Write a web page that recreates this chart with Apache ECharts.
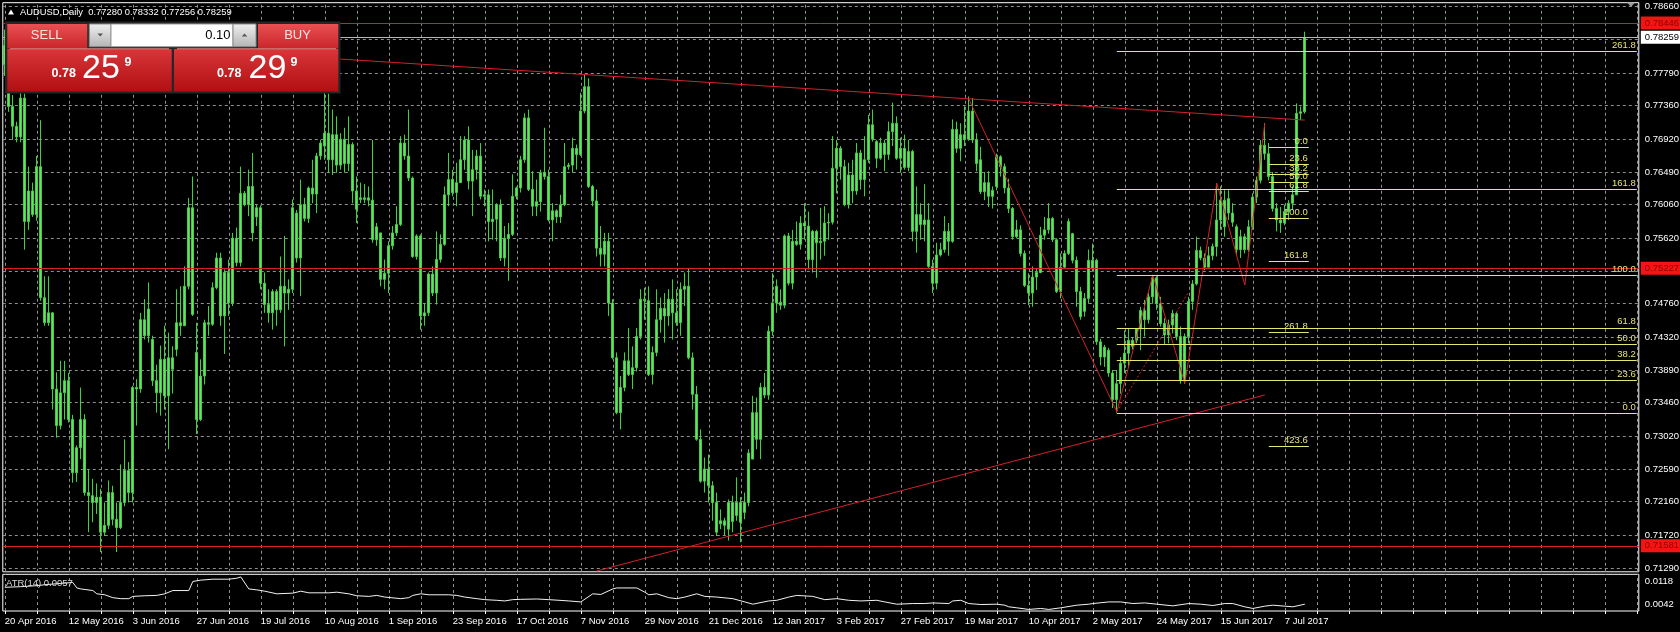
<!DOCTYPE html>
<html><head><meta charset="utf-8">
<script src="https://cdn.jsdelivr.net/npm/echarts/dist/echarts.min.js"></script>
<style>html,body{margin:0;padding:0;background:#000;}#c{width:1680px;height:632px;}</style>
</head><body><div id="c"></div>
<script>
// ---------- DATA ----------
// daily candles [open, high, low, close], bar 0 = 20 Apr 2016
const ohlc = [
[0.7790,0.7836,0.7775,0.7815],[0.7805,0.7825,0.7728,0.7735],[0.7735,0.7750,0.7691,0.7709],[0.7709,0.7715,0.7688,0.7695],[0.7695,0.7755,0.7688,0.7746],
[0.7746,0.7752,0.7547,0.7584],[0.7584,0.7656,0.7573,0.7624],[0.7624,0.7635,0.7590,0.7593],[0.7593,0.7670,0.7585,0.7656],[0.7656,0.7717,0.7480,0.7484],
[0.7484,0.7512,0.7447,0.7451],[0.7451,0.7512,0.7447,0.7464],[0.7464,0.7465,0.7337,0.7364],[0.7364,0.7386,0.7300,0.7316],[0.7316,0.7401,0.7311,0.7359],
[0.7359,0.7401,0.7324,0.7375],[0.7375,0.7385,0.7320,0.7324],[0.7324,0.7330,0.7241,0.7254],[0.7254,0.7290,0.7242,0.7287],[0.7287,0.7366,0.7272,0.7324],
[0.7324,0.7331,0.7224,0.7228],[0.7228,0.7259,0.7176,0.7224],[0.7224,0.7246,0.7189,0.7215],[0.7215,0.7240,0.7200,0.7222],[0.7222,0.7233,0.7150,0.7176],
[0.7176,0.7215,0.7171,0.7185],[0.7185,0.7244,0.7180,0.7228],[0.7228,0.7237,0.7185,0.7193],[0.7193,0.7215,0.7150,0.7182],[0.7182,0.7265,0.7180,0.7215],
[0.7215,0.7298,0.7210,0.7257],[0.7257,0.7268,0.7215,0.7228],[0.7228,0.7368,0.7215,0.7366],[0.7366,0.7377,0.7316,0.7364],[0.7364,0.7464,0.7359,0.7455],
[0.7455,0.7482,0.7429,0.7434],[0.7434,0.7504,0.7425,0.7469],[0.7429,0.7434,0.7368,0.7375],[0.7375,0.7396,0.7333,0.7359],[0.7359,0.7421,0.7329,0.7403],
[0.7403,0.7447,0.7337,0.7355],[0.7355,0.7438,0.7285,0.7405],[0.7405,0.7420,0.7358,0.7390],[0.7416,0.7495,0.7407,0.7451],[0.7451,0.7499,0.7434,0.7447],
[0.7447,0.7525,0.7447,0.7499],[0.7499,0.7615,0.7495,0.7602],[0.7602,0.7643,0.7460,0.7462],[0.7412,0.7451,0.7305,0.7324],[0.7324,0.7403,0.7322,0.7381],
[0.7381,0.7455,0.7370,0.7451],[0.7451,0.7473,0.7434,0.7449],[0.7449,0.7504,0.7447,0.7497],[0.7497,0.7543,0.7495,0.7536],[0.7536,0.7543,0.7447,0.7460],
[0.7460,0.7521,0.7410,0.7517],[0.7517,0.7534,0.7460,0.7477],[0.7477,0.7569,0.7473,0.7562],[0.7562,0.7576,0.7525,0.7530],[0.7530,0.7656,0.7525,0.7621],
[0.7621,0.7624,0.7604,0.7606],[0.7606,0.7652,0.7591,0.7630],[0.7630,0.7674,0.7558,0.7569],[0.7590,0.7606,0.7578,0.7602],[0.7602,0.7605,0.7495,0.7503],
[0.7503,0.7517,0.7464,0.7475],[0.7475,0.7495,0.7451,0.7464],[0.7464,0.7495,0.7442,0.7492],[0.7492,0.7495,0.7447,0.7468],[0.7468,0.7538,0.7464,0.7499],
[0.7499,0.7565,0.7420,0.7490],[0.7490,0.7508,0.7468,0.7495],[0.7495,0.7613,0.7490,0.7602],[0.7595,0.7599,0.7530,0.7536],[0.7536,0.7639,0.7486,0.7606],
[0.7606,0.7615,0.7584,0.7588],[0.7588,0.7630,0.7582,0.7628],[0.7628,0.7665,0.7608,0.7620],[0.7620,0.7674,0.7595,0.7670],[0.7670,0.7691,0.7665,0.7687],
[0.7683,0.7753,0.7665,0.7700],[0.7700,0.7752,0.7648,0.7665],[0.7665,0.7731,0.7645,0.7698],[0.7698,0.7722,0.7648,0.7658],[0.7658,0.7700,0.7652,0.7692],
[0.7692,0.7707,0.7648,0.7660],[0.7660,0.7722,0.7650,0.7685],[0.7685,0.7688,0.7608,0.7624],[0.7624,0.7643,0.7582,0.7600],[0.7615,0.7635,0.7608,0.7613],
[0.7613,0.7633,0.7608,0.7615],[0.7615,0.7630,0.7604,0.7612],[0.7612,0.7691,0.7556,0.7560],[0.7560,0.7582,0.7552,0.7577],[0.7569,0.7569,0.7499,0.7508],
[0.7508,0.7534,0.7495,0.7516],[0.7516,0.7558,0.7490,0.7552],[0.7552,0.7578,0.7547,0.7569],[0.7569,0.7604,0.7565,0.7580],[0.7580,0.7696,0.7578,0.7687],
[0.7687,0.7698,0.7665,0.7670],[0.7670,0.7731,0.7637,0.7641],[0.7641,0.7643,0.7536,0.7538],[0.7538,0.7567,0.7534,0.7565],[0.7565,0.7567,0.7442,0.7460],
[0.7460,0.7477,0.7447,0.7464],[0.7464,0.7517,0.7460,0.7515],[0.7515,0.7525,0.7486,0.7490],[0.7490,0.7571,0.7475,0.7534],[0.7534,0.7567,0.7530,0.7554],
[0.7554,0.7630,0.7552,0.7619],[0.7619,0.7674,0.7604,0.7639],[0.7639,0.7652,0.7617,0.7622],[0.7622,0.7661,0.7604,0.7635],[0.7635,0.7696,0.7635,0.7665],
[0.7665,0.7696,0.7652,0.7691],[0.7691,0.7709,0.7626,0.7637],[0.7637,0.7678,0.7591,0.7652],[0.7652,0.7678,0.7639,0.7670],[0.7670,0.7687,0.7613,0.7617],
[0.7617,0.7626,0.7604,0.7619],[0.7619,0.7626,0.7558,0.7584],[0.7584,0.7626,0.7560,0.7587],[0.7587,0.7608,0.7558,0.7606],[0.7606,0.7613,0.7532,0.7536],
[0.7536,0.7578,0.7525,0.7562],[0.7562,0.7582,0.7506,0.7567],[0.7567,0.7646,0.7565,0.7617],[0.7617,0.7630,0.7613,0.7628],[0.7628,0.7670,0.7622,0.7665],
[0.7665,0.7726,0.7661,0.7720],[0.7720,0.7731,0.7624,0.7626],[0.7626,0.7650,0.7591,0.7604],[0.7604,0.7639,0.7591,0.7610],[0.7610,0.7652,0.7597,0.7648],
[0.7648,0.7707,0.7639,0.7643],[0.7643,0.7652,0.7584,0.7586],[0.7586,0.7608,0.7558,0.7598],[0.7598,0.7600,0.7582,0.7590],[0.7590,0.7619,0.7582,0.7606],
[0.7606,0.7687,0.7604,0.7656],[0.7656,0.7661,0.7652,0.7658],[0.7658,0.7694,0.7648,0.7680],[0.7680,0.7685,0.7652,0.7672],[0.7672,0.7753,0.7670,0.7729],
[0.7729,0.7777,0.7726,0.7761],[0.7761,0.7772,0.7628,0.7630],[0.7630,0.7632,0.7604,0.7611],[0.7611,0.7626,0.7538,0.7549],[0.7549,0.7578,0.7525,0.7541],
[0.7541,0.7569,0.7525,0.7558],[0.7558,0.7569,0.7460,0.7477],[0.7477,0.7482,0.7403,0.7405],[0.7405,0.7412,0.7331,0.7333],[0.7333,0.7381,0.7311,0.7366],
[0.7366,0.7412,0.7361,0.7401],[0.7401,0.7444,0.7381,0.7383],[0.7383,0.7420,0.7364,0.7392],[0.7392,0.7444,0.7387,0.7433],[0.7433,0.7495,0.7429,0.7482],
[0.7482,0.7497,0.7455,0.7480],[0.7480,0.7499,0.7381,0.7383],[0.7383,0.7420,0.7370,0.7412],[0.7412,0.7495,0.7407,0.7455],[0.7455,0.7484,0.7438,0.7470],
[0.7470,0.7490,0.7425,0.7460],[0.7460,0.7495,0.7447,0.7482],[0.7482,0.7508,0.7429,0.7464],[0.7464,0.7495,0.7447,0.7451],[0.7451,0.7504,0.7434,0.7495],
[0.7495,0.7517,0.7473,0.7499],[0.7499,0.7523,0.7403,0.7405],[0.7405,0.7412,0.7337,0.7357],[0.7357,0.7368,0.7296,0.7298],[0.7298,0.7311,0.7241,0.7243],
[0.7243,0.7274,0.7228,0.7259],[0.7259,0.7278,0.7215,0.7237],[0.7237,0.7243,0.7191,0.7215],[0.7215,0.7228,0.7171,0.7176],[0.7187,0.7206,0.7180,0.7191],
[0.7191,0.7195,0.7171,0.7185],[0.7180,0.7219,0.7165,0.7215],[0.7215,0.7224,0.7176,0.7190],[0.7198,0.7248,0.7191,0.7215],[0.7215,0.7222,0.7163,0.7189],
[0.7202,0.7228,0.7193,0.7215],[0.7215,0.7285,0.7210,0.7280],[0.7272,0.7355,0.7272,0.7333],[0.7333,0.7353,0.7285,0.7298],[0.7298,0.7372,0.7272,0.7366],
[0.7366,0.7385,0.7352,0.7356],[0.7356,0.7447,0.7350,0.7440],[0.7440,0.7516,0.7434,0.7477],[0.7477,0.7508,0.7464,0.7499],[0.7478,0.7495,0.7468,0.7474],
[0.7474,0.7567,0.7470,0.7565],[0.7565,0.7569,0.7500,0.7503],[0.7503,0.7573,0.7495,0.7558],[0.7558,0.7584,0.7552,0.7554],[0.7554,0.7591,0.7547,0.7582],
[0.7582,0.7608,0.7560,0.7578],[0.7578,0.7597,0.7521,0.7534],[0.7534,0.7573,0.7517,0.7571],[0.7571,0.7573,0.7510,0.7556],[0.7556,0.7602,0.7534,0.7558],
[0.7558,0.7604,0.7539,0.7582],[0.7582,0.7595,0.7560,0.7583],[0.7583,0.7696,0.7580,0.7654],[0.7654,0.7691,0.7621,0.7680],[0.7680,0.7683,0.7639,0.7656],
[0.7656,0.7665,0.7604,0.7606],[0.7606,0.7661,0.7601,0.7645],[0.7645,0.7665,0.7608,0.7624],[0.7624,0.7687,0.7619,0.7674],[0.7674,0.7678,0.7626,0.7639],
[0.7639,0.7696,0.7617,0.7665],[0.7665,0.7724,0.7661,0.7711],[0.7711,0.7731,0.7689,0.7692],[0.7689,0.7691,0.7654,0.7667],[0.7667,0.7694,0.7665,0.7687],
[0.7687,0.7691,0.7650,0.7672],[0.7672,0.7715,0.7665,0.7702],[0.7702,0.7740,0.7683,0.7713],[0.7713,0.7722,0.7665,0.7667],[0.7667,0.7694,0.7648,0.7680],
[0.7680,0.7698,0.7652,0.7655],[0.7655,0.7691,0.7650,0.7676],[0.7676,0.7678,0.7558,0.7571],[0.7571,0.7630,0.7543,0.7593],[0.7593,0.7608,0.7560,0.7580],
[0.7580,0.7633,0.7558,0.7586],[0.7586,0.7608,0.7523,0.7525],[0.7525,0.7534,0.7490,0.7503],[0.7503,0.7556,0.7495,0.7540],[0.7540,0.7556,0.7538,0.7547],
[0.7547,0.7591,0.7543,0.7571],[0.7571,0.7582,0.7539,0.7558],[0.7558,0.7718,0.7556,0.7705],[0.7705,0.7715,0.7674,0.7680],[0.7680,0.7713,0.7663,0.7698],
[0.7698,0.7735,0.7683,0.7692],[0.7692,0.7748,0.7690,0.7729],[0.7729,0.7746,0.7687,0.7691],[0.7691,0.7700,0.7650,0.7660],[0.7665,0.7682,0.7620,0.7623],
[0.7623,0.7649,0.7612,0.7635],[0.7635,0.7650,0.7603,0.7617],[0.7625,0.7630,0.7601,0.7617],[0.7630,0.7673,0.7625,0.7669],[0.7669,0.7671,0.7643,0.7656],
[0.7656,0.7660,0.7621,0.7628],[0.7628,0.7640,0.7595,0.7601],[0.7601,0.7603,0.7560,0.7564],[0.7564,0.7586,0.7562,0.7573],[0.7573,0.7579,0.7538,0.7542],
[0.7542,0.7546,0.7498,0.7500],[0.7500,0.7516,0.7474,0.7490],[0.7490,0.7525,0.7472,0.7511],[0.7511,0.7522,0.7494,0.7517],[0.7517,0.7577,0.7516,0.7566],
[0.7566,0.7590,0.7560,0.7573],[0.7573,0.7608,0.7568,0.7588],[0.7588,0.7590,0.7557,0.7560],[0.7560,0.7562,0.7490,0.7492],[0.7492,0.7542,0.7483,0.7524],
[0.7524,0.7546,0.7522,0.7542],[0.7542,0.7588,0.7540,0.7584],[0.7568,0.7569,0.7529,0.7533],[0.7533,0.7538,0.7472,0.7492],[0.7492,0.7498,0.7455,0.7459],
[0.7466,0.7490,0.7459,0.7483],[0.7483,0.7547,0.7476,0.7533],[0.7533,0.7555,0.7518,0.7523],[0.7533,0.7535,0.7422,0.7426],[0.7426,0.7430,0.7395,0.7406],
[0.7406,0.7422,0.7393,0.7419],[0.7415,0.7418,0.7380,0.7385],[0.7385,0.7389,0.7339,0.7350],[0.7350,0.7389,0.7333,0.7371],[0.7371,0.7406,0.7358,0.7398],
[0.7398,0.7441,0.7385,0.7411],[0.7411,0.7444,0.7393,0.7428],[0.7428,0.7431,0.7416,0.7420],[0.7428,0.7444,0.7424,0.7443],[0.7443,0.7472,0.7415,0.7467],
[0.7467,0.7481,0.7433,0.7455],[0.7455,0.7490,0.7450,0.7485],[0.7485,0.7514,0.7476,0.7510],[0.7510,0.7512,0.7468,0.7476],[0.7476,0.7485,0.7446,0.7450],
[0.7450,0.7457,0.7422,0.7435],[0.7435,0.7455,0.7424,0.7448],[0.7448,0.7468,0.7437,0.7463],[0.7463,0.7465,0.7428,0.7433],[0.7433,0.7446,0.7371,0.7375],
[0.7375,0.7437,0.7371,0.7433],[0.7433,0.7485,0.7424,0.7479],[0.7479,0.7507,0.7468,0.7502],[0.7502,0.7564,0.7500,0.7546],[0.7546,0.7551,0.7533,0.7536],
[0.7536,0.7542,0.7520,0.7524],[0.7524,0.7551,0.7524,0.7539],[0.7539,0.7555,0.7533,0.7551],[0.7551,0.7634,0.7538,0.7586],[0.7586,0.7630,0.7573,0.7612],
[0.7612,0.7625,0.7564,0.7577],[0.7595,0.7625,0.7586,0.7614],[0.7595,0.7608,0.7577,0.7583],[0.7577,0.7580,0.7540,0.7547],[0.7547,0.7573,0.7536,0.7564],
[0.7564,0.7568,0.7542,0.7547],[0.7547,0.7586,0.7544,0.7577],[0.7577,0.7621,0.7573,0.7616],[0.7616,0.7643,0.7608,0.7638],[0.7638,0.7691,0.7634,0.7684],
[0.7684,0.7713,0.7665,0.7673],[0.7673,0.7687,0.7638,0.7643],[0.7643,0.7649,0.7597,0.7601],[0.7601,0.7608,0.7571,0.7586],[0.7586,0.7603,0.7569,0.7582],
[0.7582,0.7606,0.7579,0.7597],[0.7597,0.7612,0.7586,0.7608],[0.7608,0.7630,0.7599,0.7619],[0.7619,0.7739,0.7619,0.7726],[0.7726,0.7735,0.7717,0.7728],
[0.77280,0.78332,0.77256,0.78259]
];
// ATR(14) readings [bar index, value]
const atrPoints = [[0,0.00985],[4,0.01007],[8,0.0104],[10,0.01072],[14,0.01116],[17,0.01148],[18,0.00964],[19,0.00931],[22,0.00877],[23,0.00768],[25,0.00735],[27,0.00638],[29,0.00605],[31,0.00605],[32,0.00681],[35,0.00703],[38,0.00714],[40,0.00768],[42,0.00877],[46,0.00877],[47,0.0118],[49,0.01225],[52,0.01257],[56,0.01257],[58,0.0129],[59,0.01333],[61,0.00931],[63,0.00899],[65,0.00855],[68,0.00768],[72,0.0079],[74,0.00855],[76,0.00801],[81,0.00801],[83,0.00822],[86,0.00768],[88,0.00703],[91,0.00681],[93,0.00714],[95,0.00659],[99,0.00605],[101,0.00638],[102,0.00714],[104,0.00768],[106,0.00735],[111,0.00735],[113,0.00714],[115,0.00659],[118,0.00605],[120,0.00572],[123,0.0055],[125,0.00529],[127,0.00572],[129,0.00583],[133,0.00594],[136,0.00572],[141,0.00529],[144,0.00496],[147,0.00768],[149,0.00746],[152,0.00931],[153,0.00964],[158,0.00964],[160,0.00822],[161,0.00735],[163,0.00768],[166,0.00638],[168,0.00605],[170,0.00659],[173,0.00768],[175,0.00681],[178,0.00659],[182,0.00605],[185,0.00496],[187,0.0042],[191,0.00529],[193,0.0055],[196,0.00659],[198,0.00714],[202,0.00681],[205,0.00572],[208,0.00605],[211,0.0055],[214,0.00529],[218,0.0055],[220,0.00496],[223,0.0042],[227,0.00442],[230,0.00442],[232,0.00463],[236,0.00442],[237,0.00529],[239,0.0055],[241,0.00442],[244,0.00409],[248,0.0042],[250,0.00387],[251,0.00332],[253,0.00299],[256,0.00244],[259,0.00277],[261,0.00244],[264,0.00299],[268,0.00387],[271,0.0042],[272,0.00442],[276,0.00496],[279,0.00496],[282,0.00442],[285,0.00463],[288,0.0042],[292,0.00365],[296,0.00442],[299,0.0042],[302,0.00376],[305,0.00442],[307,0.00442],[310,0.00332],[312,0.00277],[315,0.00354],[317,0.00387],[320,0.00354],[322,0.00332],[325,0.0042]];
const dateLabels = ['20 Apr 2016','12 May 2016','3 Jun 2016','27 Jun 2016','19 Jul 2016','10 Aug 2016','1 Sep 2016','23 Sep 2016','17 Oct 2016','7 Nov 2016','29 Nov 2016','21 Dec 2016','12 Jan 2017','3 Feb 2017','27 Feb 2017','19 Mar 2017','10 Apr 2017','2 May 2017','24 May 2017','15 Jun 2017','7 Jul 2017'];
const priceTicks = [0.78660,0.78230,0.77790,0.77360,0.76920,0.76490,0.76060,0.75620,0.75190,0.74760,0.74320,0.73890,0.73460,0.73020,0.72590,0.72160,0.71720,0.71290];
const atrTicks = [0.0118, 0.0042];
const redLevels = [0.78446, 0.75227, 0.71581];
const bidPrice = 0.78259;
const trendDown = [[0, 0.78251], [325, 0.77171]];
const trendUp = [[148, 0.71251], [315, 0.73562]];
const zigzag = [[241, 0.77448], [278, 0.73342], [287, 0.75137], [295, 0.73715], [303, 0.76341], [310, 0.75006], [315, 0.77129]];
const zigzagDash = [[278, 0.73342], [296, 0.74918]];
const fibA = {from: 278, to: 408, p0: 0.73321, p100: 0.75137, levels: [0, 23.6, 38.2, 50, 61.8, 100, 161.8, 261.8]};
const fibB = {from: 316, to: 325.6, p0: 0.76814, p100: 0.75886, levels: [0, 23.6, 38.2, 50, 61.8, 100, 161.8, 261.8, 423.6]};
const titleText = 'AUDUSD,Daily  0.77280 0.78332 0.77256 0.78259';
const atrText = 'ATR(14) 0.0057';

// ---------- CHART ----------
const FONT = '"Liberation Sans", Arial, sans-serif';
const N = 409;
const categories = Array.from({length: N}, (_, i) => String(i));
const candles = ohlc.map(r => [r[0], r[3], Math.min(r[0], r[2], r[3]), Math.max(r[0], r[1], r[3])]);
const vGrid = [];
for (let i = 0; i < N; i += 8) vGrid.push({xAxis: i, label: {show: false}});
const GRID_LS = {color: '#8e8e8e', type: [3, 3], width: 1};
const RED = '#d4202a';
const YEL = '#e6e66e';

function seg(a, b, ls, label) {
  return [{coord: a, lineStyle: ls, label: label || {show: false}}, {coord: b}];
}
const overlay = [];
redLevels.forEach(p => overlay.push({
  yAxis: p, lineStyle: {color: RED, width: 1, type: 'solid'},
  label: {show: true, position: 'end', distance: 2, formatter: p.toFixed(5), backgroundColor: '#f51414',
    color: '#8c0000', padding: [2, 3, 1, 4], fontSize: 9.5, fontFamily: FONT}
}));
overlay.push({
  yAxis: bidPrice, lineStyle: {color: '#b8b8b8', width: 1, type: 'solid'},
  label: {show: true, position: 'end', distance: 2, formatter: bidPrice.toFixed(5), backgroundColor: '#ffffff',
    color: '#000000', padding: [2, 3, 1, 4], fontSize: 9.5, fontFamily: FONT}
});
overlay.push(seg(trendDown[0], trendDown[1], {color: RED, width: 1, type: 'solid'}));
overlay.push(seg(trendUp[0], trendUp[1], {color: RED, width: 1, type: 'solid'}));
for (let k = 0; k < zigzag.length - 1; k++) overlay.push(seg(zigzag[k], zigzag[k + 1], {color: RED, width: 1, type: 'solid'}));
overlay.push(seg(zigzagDash[0], zigzagDash[1], {color: RED, width: 1, type: [2, 2]}));
[fibA, fibB].forEach(f => {
  f.levels.forEach(l => {
    const p = f.p0 + (f.p100 - f.p0) * l / 100;
    overlay.push(seg([f.from, p], [f.to, p], {color: YEL, width: 1, type: 'solid'},
      {show: true, position: 'insideEndTop', distance: 1, formatter: l.toFixed(1), color: YEL, fontSize: 9.5, fontFamily: FONT}));
  });
});

const lg = (c1, c2) => new echarts.graphic.LinearGradient(0, 0, 0, 1, [{offset: 0, color: c1}, {offset: 1, color: c2}]);
function txt(x, y, text, font, fill, align) {
  return {type: 'text', x: x, y: y, z: 120, silent: true,
    style: {text: text, font: font, fill: fill, textAlign: align || 'left', textVerticalAlign: 'middle', align: align || 'left', verticalAlign: 'middle'}};
}
const panel = [
  {type: 'rect', z: 100, shape: {x: 5, y: 21.5, width: 335.5, height: 72}, style: {fill: '#262626'}},
  {type: 'rect', z: 101, shape: {x: 7.3, y: 24, width: 80, height: 24.5}, style: {fill: lg('#ea5053', '#c9262a')}},
  {type: 'rect', z: 101, shape: {x: 258, y: 24, width: 80.3, height: 24.5}, style: {fill: lg('#ea5053', '#c9262a')}},
  {type: 'rect', z: 101, shape: {x: 7.3, y: 49, width: 164.4, height: 42.6}, style: {fill: lg('#d9363a', '#b20f13')}},
  {type: 'rect', z: 101, shape: {x: 174, y: 49, width: 164.3, height: 42.6}, style: {fill: lg('#d9363a', '#b20f13')}},
  {type: 'line', z: 102, shape: {x1: 10, y1: 48.8, x2: 169, y2: 48.8}, style: {stroke: '#f08888', lineWidth: 1}},
  {type: 'line', z: 102, shape: {x1: 177, y1: 48.8, x2: 336, y2: 48.8}, style: {stroke: '#f08888', lineWidth: 1}},
  {type: 'rect', z: 101, shape: {x: 89.3, y: 24, width: 21.7, height: 22.7}, style: {fill: lg('#f0f0f0', '#b4b4b4'), stroke: '#8a8a8a', lineWidth: 1}},
  {type: 'rect', z: 101, shape: {x: 111, y: 24, width: 122, height: 22.7}, style: {fill: '#ffffff', stroke: '#9a9a9a', lineWidth: 1}},
  {type: 'rect', z: 101, shape: {x: 233, y: 24, width: 23, height: 22.7}, style: {fill: lg('#f0f0f0', '#b4b4b4'), stroke: '#8a8a8a', lineWidth: 1}},
  {type: 'polygon', z: 102, shape: {points: [[97.5, 33.5], [103, 33.5], [100.2, 36.5]]}, style: {fill: '#555'}},
  {type: 'polygon', z: 102, shape: {points: [[241.8, 36.5], [247.3, 36.5], [244.5, 33.5]]}, style: {fill: '#555'}},
  {type: 'polygon', z: 50, shape: {points: [[1627, 2.5], [1635, 2.5], [1631, 7]]}, style: {fill: '#9a9a9a'}},
  txt(46.7, 35.5, 'SELL', '13px ' + FONT, '#ffe2e2', 'center'),
  txt(297.5, 35.5, 'BUY', '13px ' + FONT, '#ffe2e2', 'center'),
  txt(230.5, 35.5, '0.10', '13px ' + FONT, '#000000', 'right'),
  txt(51.5, 73.5, '0.78', 'bold 12.5px ' + FONT, '#ffffff'),
  txt(82, 68.5, '25', '34px ' + FONT, '#ffffff'),
  txt(124.5, 63, '9', 'bold 12.5px ' + FONT, '#ffffff'),
  txt(217, 73.5, '0.78', 'bold 12.5px ' + FONT, '#ffffff'),
  txt(248.5, 68.5, '29', '34px ' + FONT, '#ffffff'),
  txt(290.5, 63, '9', 'bold 12.5px ' + FONT, '#ffffff'),
  {type: 'polygon', z: 60, shape: {points: [[8, 14.5], [14, 14.5], [11, 9.5]]}, style: {fill: '#ffffff'}},
  txt(20, 12, titleText, '9.4px ' + FONT, '#ffffff'),
  txt(6, 583.5, atrText, '9.5px ' + FONT, '#d8d8d8')
];

const option = {
  backgroundColor: '#000000',
  animation: false,
  grid: [
    {left: 2.8, top: 2.7, width: 1636, height: 569.1, show: true, borderColor: '#ffffff', borderWidth: 1, backgroundColor: 'transparent'},
    {left: 2.8, top: 574.3, width: 1636, height: 36.7, show: true, borderColor: '#ffffff', borderWidth: 1, backgroundColor: 'transparent'}
  ],
  xAxis: [
    {type: 'category', gridIndex: 0, data: categories, boundaryGap: true, axisLine: {show: false}, axisTick: {show: false}, axisLabel: {show: false}, splitLine: {show: false}},
    {type: 'category', gridIndex: 1, data: categories, boundaryGap: true, axisLine: {show: false},
      axisTick: {show: true, alignWithLabel: true, length: 3, interval: (i) => i % 8 === 0, lineStyle: {color: '#ffffff'}},
      axisLabel: {show: true, interval: (i) => i % 16 === 0 && i / 16 < dateLabels.length, formatter: (v, i) => dateLabels[i / 16] || '',
        color: '#ffffff', fontSize: 9.5, fontFamily: FONT, align: 'left', margin: 5},
      splitLine: {show: false}}
  ],
  yAxis: [
    {type: 'value', gridIndex: 0, position: 'right', min: 0.712401, max: 0.787125, scale: true, axisLine: {show: false}, axisTick: {show: false}, axisLabel: {show: false}, splitLine: {show: false}},
    {type: 'value', gridIndex: 1, position: 'right', min: 0.00192, max: 0.01421, axisLine: {show: false}, axisTick: {show: false}, axisLabel: {show: false}, splitLine: {show: false}}
  ],
  graphic: panel,
  series: [
    {type: 'line', name: 'gridMain', xAxisIndex: 0, yAxisIndex: 0, data: [], silent: true, z: 1,
      markLine: {silent: true, precision: 6, symbol: ['none', 'none'], z: 1, animation: false, lineStyle: GRID_LS,
        label: {show: true, position: 'end', distance: 6, color: '#ffffff', fontSize: 9.5, fontFamily: FONT},
        data: priceTicks.map(v => ({yAxis: v, label: {formatter: v.toFixed(5)}})).concat(vGrid)}},
    {type: 'line', name: 'gridAtr', xAxisIndex: 1, yAxisIndex: 1, data: [], silent: true, z: 1,
      markLine: {silent: true, precision: 6, symbol: ['none', 'none'], z: 1, animation: false, lineStyle: GRID_LS,
        data: vGrid}},
    {type: 'line', name: 'atrScale', xAxisIndex: 1, yAxisIndex: 1, data: [], silent: true, z: 1,
      markLine: {silent: true, precision: 6, symbol: ['none', 'none'], z: 2, animation: false,
        lineStyle: {color: 'rgba(0,0,0,0)', width: 1, type: 'solid'},
        label: {show: true, position: 'end', distance: 6, color: '#ffffff', fontSize: 9.5, fontFamily: FONT},
        data: atrTicks.map(v => ({yAxis: v, label: {formatter: v.toFixed(4)}}))}},
    {type: 'candlestick', name: 'AUDUSD', xAxisIndex: 0, yAxisIndex: 0, data: candles, z: 3, barWidth: 2.4,
      itemStyle: {color: '#66e066', color0: '#66e066', borderColor: '#40d040', borderColor0: '#40d040', borderWidth: 1}},
    {type: 'line', name: 'objects', xAxisIndex: 0, yAxisIndex: 0, data: [], silent: true, z: 5,
      markLine: {silent: true, precision: 6, symbol: ['none', 'none'], z: 6, animation: false, data: overlay}},
    {type: 'line', name: 'ATR(14)', xAxisIndex: 1, yAxisIndex: 1, data: atrPoints, showSymbol: false, symbol: 'none', z: 4,
      lineStyle: {color: '#f2f2f2', width: 1}}
  ]
};
const chart = echarts.init(document.getElementById('c'), null, {renderer: 'canvas', width: 1680, height: 632});
chart.setOption(option);
</script>
</body></html>
